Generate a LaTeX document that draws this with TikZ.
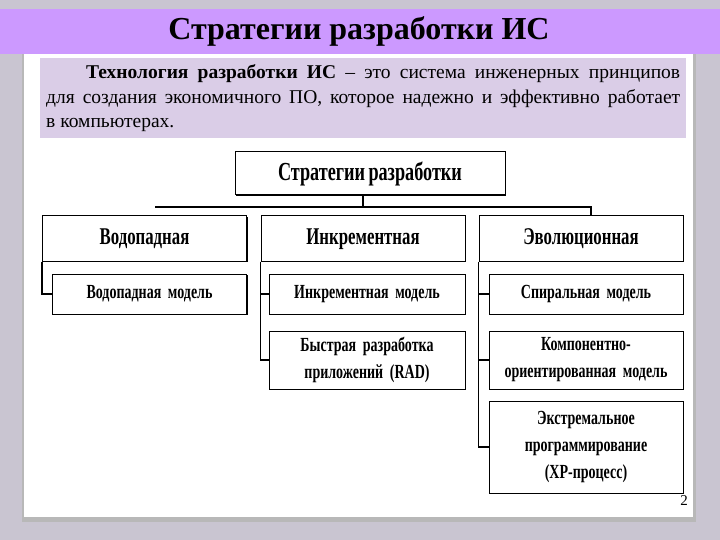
\documentclass[tikz,border=0pt]{standalone}
\usepackage{fontspec}
\setmainfont{Liberation Serif}[BoldFont={Liberation Serif Bold}]
\newfontfamily\narrowfont{Liberation Serif}[FakeStretch=0.7,WordSpace=0.75,BoldFont={Liberation Serif Bold}]
\usetikzlibrary{positioning,shadows}
\definecolor{backgr}{RGB}{201,197,209}
\definecolor{titleband}{RGB}{204,153,255}
\definecolor{notebox}{RGB}{218,205,231}

\begin{document}
\begin{tikzpicture}[x=1pt,y=-1pt,node distance=13pt,
	box/.style={draw,fill=white,line width=1pt,inner sep=2pt,align=center,
		font=\narrowfont\bfseries,
		drop shadow={shadow xshift=1.3pt,shadow yshift=-1.3pt,opacity=1,fill=black}},
	head box/.style={box,text width=200pt,minimum height=45pt,text height=17pt,text depth=5pt,
		font=\narrowfont\bfseries\fontsize{24}{28}\selectfont},
	sub box/.style={box,text width=190pt,font=\narrowfont\bfseries\fontsize{20}{27}\selectfont},
	link/.style={line width=1.6pt}]

	% page
	\fill[backgr] (0,0) rectangle (720,540);
	\useasboundingbox (0,0) rectangle (720,540);
	\fill[black!28] (22,42) rectangle (696,522);
	\fill[white] (24,40) rectangle (693,517);
	\fill[titleband] (0,9) rectangle (720,54);
	\node[font=\bfseries\fontsize{32}{36}\selectfont] (title) at (359,31) {Стратегии разработки ИС};

	\node[fill=notebox,anchor=north west,minimum width=646pt,minimum height=80pt,
		inner xsep=6pt,inner ysep=3pt,text width=634pt,align=justify,
		font=\fontsize{19.5}{24.5}\selectfont] (def) at (40,58)
		{\hspace*{40pt}\textbf{Технология разработки ИС} – это система инженерных принципов\linebreak
		для создания экономичного ПО, которое надежно и эффективно работает\linebreak
		в компьютерах.};

	\node[box,minimum width=270pt,minimum height=43pt,font=\narrowfont\bfseries\fontsize{26}{30}\selectfont] (strat) at (370,173.5) {Стратегии разработки};

	\node[head box] (water) at (144.5,238.5) {Водопадная};
	\node[head box] (incr) at (363,238.5) {Инкрементная};
	\node[head box] (evol) at (581,238.5) {Эволюционная};

	\node[sub box,minimum height=40pt,below left=12pt and 0pt of water.south east] (water1) {Водопадная модель};

	\node[sub box,minimum height=40pt,text width=192pt,below left=12pt and 0pt of incr.south east] (incr1) {Инкрементная модель};
	\node[sub box,minimum height=58pt,text width=192pt,below=16pt of incr1] (incr2) {Быстрая разработка\\приложений (RAD)};

	\node[sub box,minimum height=40pt,below left=12pt and 0pt of evol.south east] (evol1) {Спиральная модель};
	\node[sub box,minimum height=58pt,below=16pt of evol1] (evol2) {Компонентно-\\ориентированная модель};
	\node[sub box,minimum height=92pt,below=11pt of evol2] (evol3) {Экстремальное\\программирование\\(XP-процесс)};

	\node[font=\fontsize{15}{17}\selectfont] (pagenum) at (684,501) {2};

	% bus
	\coordinate (busL) at (155,207);
	\coordinate (busR) at (591,207);
	\draw[link] ([xshift=-7pt]strat.south) -- ([xshift=-7pt]strat.south |- busL);
	\draw[link] (busL) -- (busR) -- (busR |- evol.north);

	\draw[link] (water.south west) |- (water1.west);
	\draw[link] (incr.south west) |- (incr1.west)
		(incr.south west) |- (incr2.west);
	\draw[link] (evol.south west) |- (evol1.west)
		(evol.south west) |- (evol2.west)
		(evol.south west) |- (evol3.west);
\end{tikzpicture}
\end{document}
